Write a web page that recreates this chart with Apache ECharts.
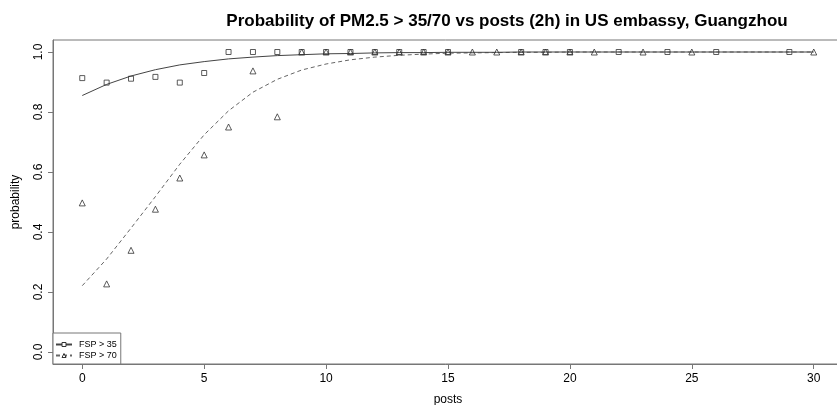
<!DOCTYPE html>
<html>
<head>
<meta charset="utf-8">
<script src="https://cdn.jsdelivr.net/npm/echarts@6/dist/echarts.min.js"></script>
<style>
  html, body { margin: 0; padding: 0; background: #fff; }
  #chart { width: 837px; height: 405px; }
</style>
</head>
<body>
<div id="chart"></div>
<script>
// Observed share of 2-hour windows above each threshold, by number of posts
const xTicks = [0, 5, 10, 15, 20, 25, 30];
const yTicks = [0, 0.2, 0.4, 0.6, 0.8, 1.0];

const posts35 = [0, 1, 2, 3, 4, 5, 6, 7, 8, 9, 10, 11, 12, 13, 14, 15, 18, 19, 20, 22, 24, 26, 29];
const prob35  = [0.913, 0.898, 0.911, 0.917, 0.898, 0.930, 1, 1, 1, 1, 1, 1, 1, 1, 1, 1, 1, 1, 1, 1, 1, 1, 1];

const posts70 = [0, 1, 2, 3, 4, 5, 6, 7, 8, 9, 10, 11, 12, 13, 14, 15, 16, 17, 18, 19, 20, 21, 23, 25, 30];
const prob70  = [0.497, 0.227, 0.339, 0.476, 0.580, 0.657, 0.750, 0.937, 0.784, 1, 1, 1, 1, 1, 1, 1, 1, 1, 1, 1, 1, 1, 1, 1, 1];

// Fitted curves, evaluated at each integer number of posts
const fitPosts = [0, 1, 2, 3, 4, 5, 6, 7, 8, 9, 10, 11, 12, 13, 14, 15, 16, 17, 18, 19, 20, 21, 22, 23, 24, 25, 26, 27, 28, 29, 30];
const fit35 = [0.855, 0.892, 0.920, 0.941, 0.957, 0.968, 0.977, 0.983, 0.988, 0.991, 0.994, 0.995, 0.997, 0.998, 0.998, 0.999, 0.999, 0.999, 1, 1, 1, 1, 1, 1, 1, 1, 1, 1, 1, 1, 1];
const fit70 = [0.221, 0.310, 0.413, 0.518, 0.626, 0.724, 0.804, 0.866, 0.909, 0.940, 0.960, 0.974, 0.983, 0.989, 0.993, 0.996, 0.997, 0.998, 0.999, 0.999, 1, 1, 1, 1, 1, 1, 1, 1, 1, 1, 1];

const names = ['FSP > 35', 'FSP > 70'];

const pairs = (xs, ys) => xs.map((x, i) => [x, ys[i]]);
const FONT = 'Liberation Sans, Arial, sans-serif';
const INK = '#333';
const FRAME = '#777';
const HOLLOW = 'rgba(255,255,255,0)';

const chart = echarts.init(document.getElementById('chart'), null, { renderer: 'canvas' });
chart.setOption({
  animation: false,
  backgroundColor: '#fff',
  title: {
    text: 'Probability of PM2.5 > 35/70 vs posts (2h) in US embassy, Guangzhou',
    left: 502, top: 8, textAlign: 'center',
    textStyle: { fontFamily: FONT, fontSize: 17, fontWeight: 'bold', color: '#000' }
  },
  grid: {
    left: 53, top: 40, right: -6, bottom: 41,
    outerBoundsMode: 'none',
    show: true, borderColor: FRAME, borderWidth: 1, backgroundColor: 'transparent'
  },
  legend: {
    data: names,
    orient: 'vertical',
    left: 53, top: 333,
    padding: [7, 4, 4, 2],
    itemGap: 2,
    itemWidth: 16, itemHeight: 5,
    borderColor: FRAME, borderWidth: 1, borderRadius: 0,
    backgroundColor: '#fff',
    selectedMode: false,
    itemStyle: { color: '#fff', borderColor: INK, borderWidth: 1 },
    textStyle: { fontFamily: FONT, fontSize: 9, color: '#000', padding: [0, 0, 0, 2] }
  },
  xAxis: {
    type: 'value', min: -1.2, max: 31.2,
    name: 'posts', nameLocation: 'middle', nameGap: 30,
    nameTextStyle: { fontFamily: FONT, fontSize: 12, color: '#000' },
    axisLine: { show: true, onZero: false, lineStyle: { color: FRAME, width: 1 } },
    splitLine: { show: false },
    axisTick: { show: true, length: 5, lineStyle: { color: FRAME }, customValues: xTicks },
    axisLabel: { fontFamily: FONT, fontSize: 12, color: '#000', margin: 9, customValues: xTicks }
  },
  yAxis: {
    type: 'value', min: -0.04, max: 1.04,
    name: 'probability', nameLocation: 'middle', nameGap: 31, nameRotate: 90,
    nameTextStyle: { fontFamily: FONT, fontSize: 12, color: '#000' },
    axisLine: { show: true, onZero: false, lineStyle: { color: FRAME, width: 1 } },
    splitLine: { show: false },
    axisTick: { show: true, length: 5, lineStyle: { color: FRAME }, customValues: yTicks },
    axisLabel: {
      fontFamily: FONT, fontSize: 12, color: '#000', margin: 8, rotate: 90,
      customValues: yTicks, formatter: v => v.toFixed(1)
    }
  },
  series: [
    {
      name: names[0], type: 'line', data: pairs(fitPosts, fit35),
      symbol: 'rect', symbolSize: 5, showSymbol: false,
      itemStyle: { color: '#fff', borderColor: INK, borderWidth: 1 },
      lineStyle: { color: '#444', width: 1, type: 'solid' }, z: 3
    },
    {
      name: names[1], type: 'line', data: pairs(fitPosts, fit70),
      symbol: 'triangle', symbolSize: 6, showSymbol: false,
      itemStyle: { color: '#fff', borderColor: INK, borderWidth: 1 },
      lineStyle: { color: '#666', width: 1, type: [4, 3] }, z: 2
    },
    {
      name: names[0], type: 'scatter', data: pairs(posts35, prob35),
      symbol: 'rect', symbolSize: 5,
      itemStyle: { color: HOLLOW, borderColor: INK, borderWidth: 1 }, z: 4
    },
    {
      name: names[1], type: 'scatter', data: pairs(posts70, prob70),
      symbol: 'triangle', symbolSize: 6,
      itemStyle: { color: HOLLOW, borderColor: INK, borderWidth: 1 }, z: 4
    }
  ]
});
</script>
</body>
</html>
